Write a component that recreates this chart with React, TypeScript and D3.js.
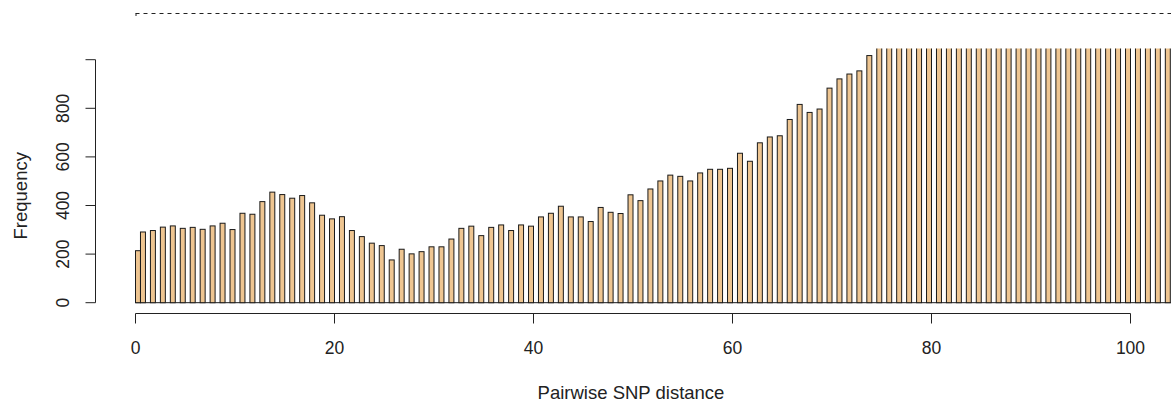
import React, { useRef, useEffect } from "react";
import { select, scaleLinear } from "d3";

// counts per pairwise SNP distance (0, 1, 2, ...); bars past ~74 run off the top
const frequency = [
  214, 291, 297, 311, 316, 306, 310, 302, 316, 327,
  301, 368, 364, 416, 455, 445, 430, 441, 411, 360,
  345, 354, 297, 272, 245, 235, 176, 220, 201, 210,
  230, 230, 262, 306, 315, 276, 310, 320, 297, 320,
  315, 353, 368, 397, 353, 353, 334, 392, 372, 367,
  444, 420, 468, 501, 525, 520, 501, 534, 549, 549,
  553, 615, 582, 658, 682, 687, 754, 816, 783, 797,
  883, 921, 941, 954, 1017, 1062, 1088, 1115, 1140, 1172,
  1196, 1230, 1251, 1287, 1310, 1342, 1365, 1398, 1420, 1446,
  1471, 1502, 1530, 1548, 1575, 1603, 1622, 1650, 1677, 1695,
  1720, 1748, 1771, 1790, 1815,
];
const distance = frequency.map((_, i) => i);

const xTicks = [0, 20, 40, 60, 80, 100];
const yTicks = [0, 200, 400, 600, 800, 1000];
const yTickLabels = ["0", "200", "400", "600", "800"];
const refLine = 1193;

const width = 1171;
const height = 403;
const font = "'Liberation Sans', Arial, sans-serif";

function SnpHistogram() {
  const svgRef = useRef<SVGSVGElement>(null);

  useEffect(() => {
    document.body.style.margin = "0";
    const svg = select(svgRef.current);
    svg.selectAll("*").remove();

    const xScale = scaleLinear().domain([0, 100]).range([135.5, 1130.5]);
    const yScale = scaleLinear().domain([0, 1000]).range([302.7, 59.7]);

    // plot region clip (bars are cut at the top)
    svg
      .append("clipPath")
      .attr("id", "plot-clip")
      .append("rect")
      .attr("x", 0)
      .attr("y", 48.5)
      .attr("width", width)
      .attr("height", 300);

    // dashed reference line above the plot
    svg
      .append("line")
      .attr("x1", xScale(0))
      .attr("x2", width)
      .attr("y1", Math.round(yScale(refLine)) + 0.5)
      .attr("y2", Math.round(yScale(refLine)) + 0.5)
      .attr("stroke", "#222")
      .attr("stroke-dasharray", "4,4");
    svg
      .append("line")
      .attr("x1", xScale(0) + 0.5)
      .attr("x2", xScale(0) + 0.5)
      .attr("y1", Math.round(yScale(refLine)) + 0.5)
      .attr("y2", Math.round(yScale(refLine)) + 3)
      .attr("stroke", "#222");

    const bars = svg.append("g").attr("clip-path", "url(#plot-clip)");

    // baseline: the empty half-unit bins draw as flat lines
    bars
      .append("line")
      .attr("x1", xScale(0))
      .attr("x2", width)
      .attr("y1", yScale(0))
      .attr("y2", yScale(0))
      .attr("stroke", "#1a1a1a");

    bars
      .selectAll(".bar")
      .data(distance)
      .join("rect")
      .attr("class", "bar")
      .attr("x", (d) => xScale(d === 0 ? 0 : d - 0.5))
      .attr("width", (d) => xScale(d === 0 ? 0.5 : d) - xScale(d === 0 ? 0 : d - 0.5))
      .attr("y", (d) => yScale(frequency[d]))
      .attr("height", (d) => yScale(0) - yScale(frequency[d]))
      .attr("fill", "#EEC591")
      .attr("stroke", "#1a1a1a")
      .attr("stroke-width", 1);

    // x axis
    const xAxisY = 313.5;
    const xa = svg.append("g").attr("font-family", font).attr("font-size", 17.5);
    xa.append("line")
      .attr("x1", xScale(0))
      .attr("x2", xScale(100))
      .attr("y1", xAxisY)
      .attr("y2", xAxisY)
      .attr("stroke", "#222");
    xTicks.forEach((t) => {
      xa.append("line")
        .attr("x1", xScale(t))
        .attr("x2", xScale(t))
        .attr("y1", xAxisY)
        .attr("y2", xAxisY + 10)
        .attr("stroke", "#222");
      xa.append("text")
        .attr("x", xScale(t))
        .attr("y", 354)
        .attr("text-anchor", "middle")
        .attr("fill", "#222")
        .text(String(t));
    });
    xa.append("text")
      .attr("x", 631)
      .attr("y", 399)
      .attr("text-anchor", "middle")
      .attr("font-size", 18.5)
      .attr("fill", "#222")
      .text("Pairwise SNP distance");

    // y axis
    const yAxisX = 95.5;
    const ya = svg.append("g").attr("font-family", font).attr("font-size", 17.5);
    ya.append("line")
      .attr("x1", yAxisX)
      .attr("x2", yAxisX)
      .attr("y1", yScale(1000))
      .attr("y2", yScale(0))
      .attr("stroke", "#222");
    yTicks.forEach((t, i) => {
      ya.append("line")
        .attr("x1", yAxisX - 10)
        .attr("x2", yAxisX)
        .attr("y1", yScale(t))
        .attr("y2", yScale(t))
        .attr("stroke", "#222");
      if (yTickLabels[i]) {
        ya.append("text")
          .attr("transform", `translate(69, ${yScale(t)}) rotate(-90)`)
          .attr("text-anchor", "middle")
          .attr("fill", "#222")
          .text(yTickLabels[i]);
      }
    });
    ya.append("text")
      .attr("transform", `translate(27, ${yScale(440)}) rotate(-90)`)
      .attr("text-anchor", "middle")
      .attr("font-size", 18.5)
      .attr("fill", "#222")
      .text("Frequency");
  }, []);

  return <svg ref={svgRef} width={width} height={height} style={{ display: "block" }} />;
}

export default function App() {
  return <SnpHistogram />;
}
